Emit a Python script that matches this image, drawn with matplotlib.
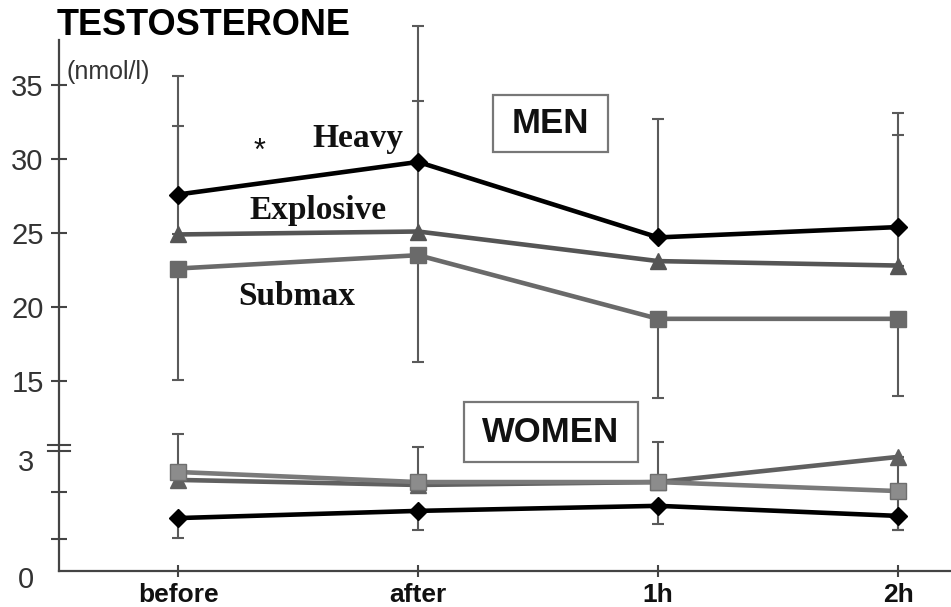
import numpy as np
import matplotlib
matplotlib.use("Agg")
import matplotlib.pyplot as plt
from matplotlib.lines import Line2D
from matplotlib.patches import Rectangle

# ---------------- data ----------------
times = ["before", "after", "1h", "2h"]

men_heavy = [27.6, 29.8, 24.7, 25.4]
men_explosive = [24.9, 25.1, 23.1, 22.8]
men_submax = [22.6, 23.5, 19.2, 19.2]
men_heavy_sd = [8.0, 9.2, 8.0, 7.7]            # drawn upward
men_explosive_sd = [7.3, 8.8, np.nan, 8.8]     # drawn upward
men_submax_sd = [7.5, 7.2, 5.35, 5.2]          # drawn downward

women_heavy = [1.47, 1.67, 1.81, 1.53]
women_explosive = [2.53, 2.39, 2.47, 3.17]
women_submax = [2.75, 2.47, 2.47, 2.22]
women_heavy_sd = [0.55, 0.53, 0.50, 0.39]      # drawn downward
women_submax_sd = [1.05, 0.97, 1.11, np.nan]   # drawn upward
women_explosive_sd = [np.nan, np.nan, np.nan, 2.03]  # drawn downward

yticks = [0.9, 2.2, 15, 20, 25, 30, 35]
yticklabels = ["", "", "15", "20", "25", "30", "35"]

# ---------------- broken y scale ----------------
def fwd(y):
    y = np.asarray(y, dtype=float)
    return np.where(y <= 4, 36.0 * y,
                    np.where(y <= 13, 144.0 + (y - 4) * (16.4 / 9.0),
                             160.4 + 14.8 * (y - 13)))

def inv(u):
    u = np.asarray(u, dtype=float)
    return np.where(u <= 144.0, u / 36.0,
                    np.where(u <= 160.4, 4 + (u - 144.0) * (9.0 / 16.4),
                             13 + (u - 160.4) / 14.8))

W, H = 951, 607
fig = plt.figure(figsize=(W / 100, H / 100), dpi=100)
fig.patch.set_facecolor("white")
ax = fig.add_axes([59 / W, (H - 571) / H, 892 / W, 551 / H])
ax.set_yscale("function", functions=(fwd, inv))
ax.set_xlim(-0.496, 3.22)
ax.set_ylim(0, 39.39)

x = np.arange(len(times))

C_HEAVY = "#000000"
C_EXPL = "#555555"
C_SUB = "#6a6a6a"
C_SUB_W = "#8c8c8c"
C_ERR = "#5a5a5a"

def ebar(y, sd, up=True):
    y = np.asarray(y, float)
    sd = np.asarray(sd, float)
    m = np.isfinite(sd)
    z = np.zeros(m.sum())
    err = [z, sd[m]] if up else [sd[m], z]
    ax.errorbar(x[m], y[m], yerr=err, fmt="none", ecolor=C_ERR,
                elinewidth=1.5, capsize=4, capthick=1.5, zorder=1, clip_on=False)

# error bars
ebar(men_heavy, men_heavy_sd, up=True)
ebar(men_explosive, men_explosive_sd, up=True)
ebar(men_submax, men_submax_sd, up=False)
ebar(women_heavy, women_heavy_sd, up=False)
ebar(women_submax, women_submax_sd, up=True)
ebar(women_explosive, women_explosive_sd, up=False)

lw = 3.3
# men
ax.plot(x, men_submax, color=C_SUB, lw=lw, marker="s", ms=12, mec=C_SUB, zorder=3)
ax.plot(x, men_explosive, color=C_EXPL, lw=lw, marker="^", ms=12, mec=C_EXPL, zorder=4)
ax.plot(x, men_heavy, color=C_HEAVY, lw=lw, marker="D", ms=9, zorder=5)
# women
ax.plot(x, women_explosive, color="#606060", lw=lw, marker="^", ms=12, mec="#606060", zorder=3)
ax.plot(x, women_submax, color="#7a7a7a", lw=lw, marker="s", ms=12, mfc=C_SUB_W, mec="#6e6e6e", zorder=4)
ax.plot(x, women_heavy, color=C_HEAVY, lw=lw, marker="D", ms=9, zorder=5)

# axes styling
for s in ["top", "right"]:
    ax.spines[s].set_visible(False)
for s in ["left", "bottom"]:
    ax.spines[s].set_color("#444444")
    ax.spines[s].set_linewidth(1.6)
ax.spines["left"].set_bounds(0, 38.04)

ax.set_xticks(x)
ax.set_xticklabels(times, fontsize=19, fontweight="bold", family="Liberation Sans", color="#111111")
ax.set_yticks(yticks)
ax.set_yticklabels(yticklabels, fontsize=21, family="Liberation Sans", color="#333333")
ax.minorticks_off()
ax.tick_params(axis="y", direction="inout", length=12, width=1.5, color="#444444", pad=5)
ax.tick_params(axis="x", direction="inout", length=9, width=1.5, color="#444444", pad=4)

def fx(px):
    return px / W

def fy(py):
    return 1 - py / H

# extra y labels "3" and "0"
fig.text(fx(34), fy(463), "3", ha="right", va="center", fontsize=21,
         family="Liberation Sans", color="#333333")
fig.text(fx(34), fy(580), "0", ha="right", va="center", fontsize=21,
         family="Liberation Sans", color="#333333")

# axis break marks
for py in (445, 451):
    fig.add_artist(Line2D([fx(48), fx(70)], [fy(py), fy(py)], color="#444444", lw=1.5))

# titles / labels
fig.text(fx(57), fy(35), "TESTOSTERONE", ha="left", va="baseline", fontsize=26,
         fontweight="bold", family="Liberation Sans", color="#000000")
fig.text(fx(66), fy(79), "(nmol/l)", ha="left", va="baseline", fontsize=18,
         family="Liberation Sans", color="#333333")

serif = dict(fontsize=24, fontweight="bold", family="Liberation Serif", color="#111111")
fig.text(fx(358), fy(147), "Heavy", ha="center", va="baseline", **serif)
fig.text(fx(318), fy(219), "Explosive", ha="center", va="baseline", **serif)
fig.text(fx(297), fy(305), "Submax", ha="center", va="baseline", **serif)
fig.text(fx(260), fy(152), "*", ha="center", va="center", fontsize=22,
         family="Liberation Sans", color="#111111")

# boxed group labels
def boxed(label, x0, y0, x1, y1):
    fig.add_artist(Rectangle((fx(x0), fy(y1)), fx(x1) - fx(x0), fy(y0) - fy(y1),
                             transform=fig.transFigure, facecolor="white",
                             edgecolor="#777777", lw=1.6, zorder=6))
    t = fig.text(fx((x0 + x1) / 2), fy((y0 + y1) / 2), label, ha="center", va="center",
                 fontsize=25, fontweight="bold", family="Liberation Sans", color="#111111")
    t.set_zorder(7)

boxed("MEN", 493, 95, 608, 152)
boxed("WOMEN", 464, 402, 638, 462)

fig.savefig("out.png", dpi=100, facecolor="white")
